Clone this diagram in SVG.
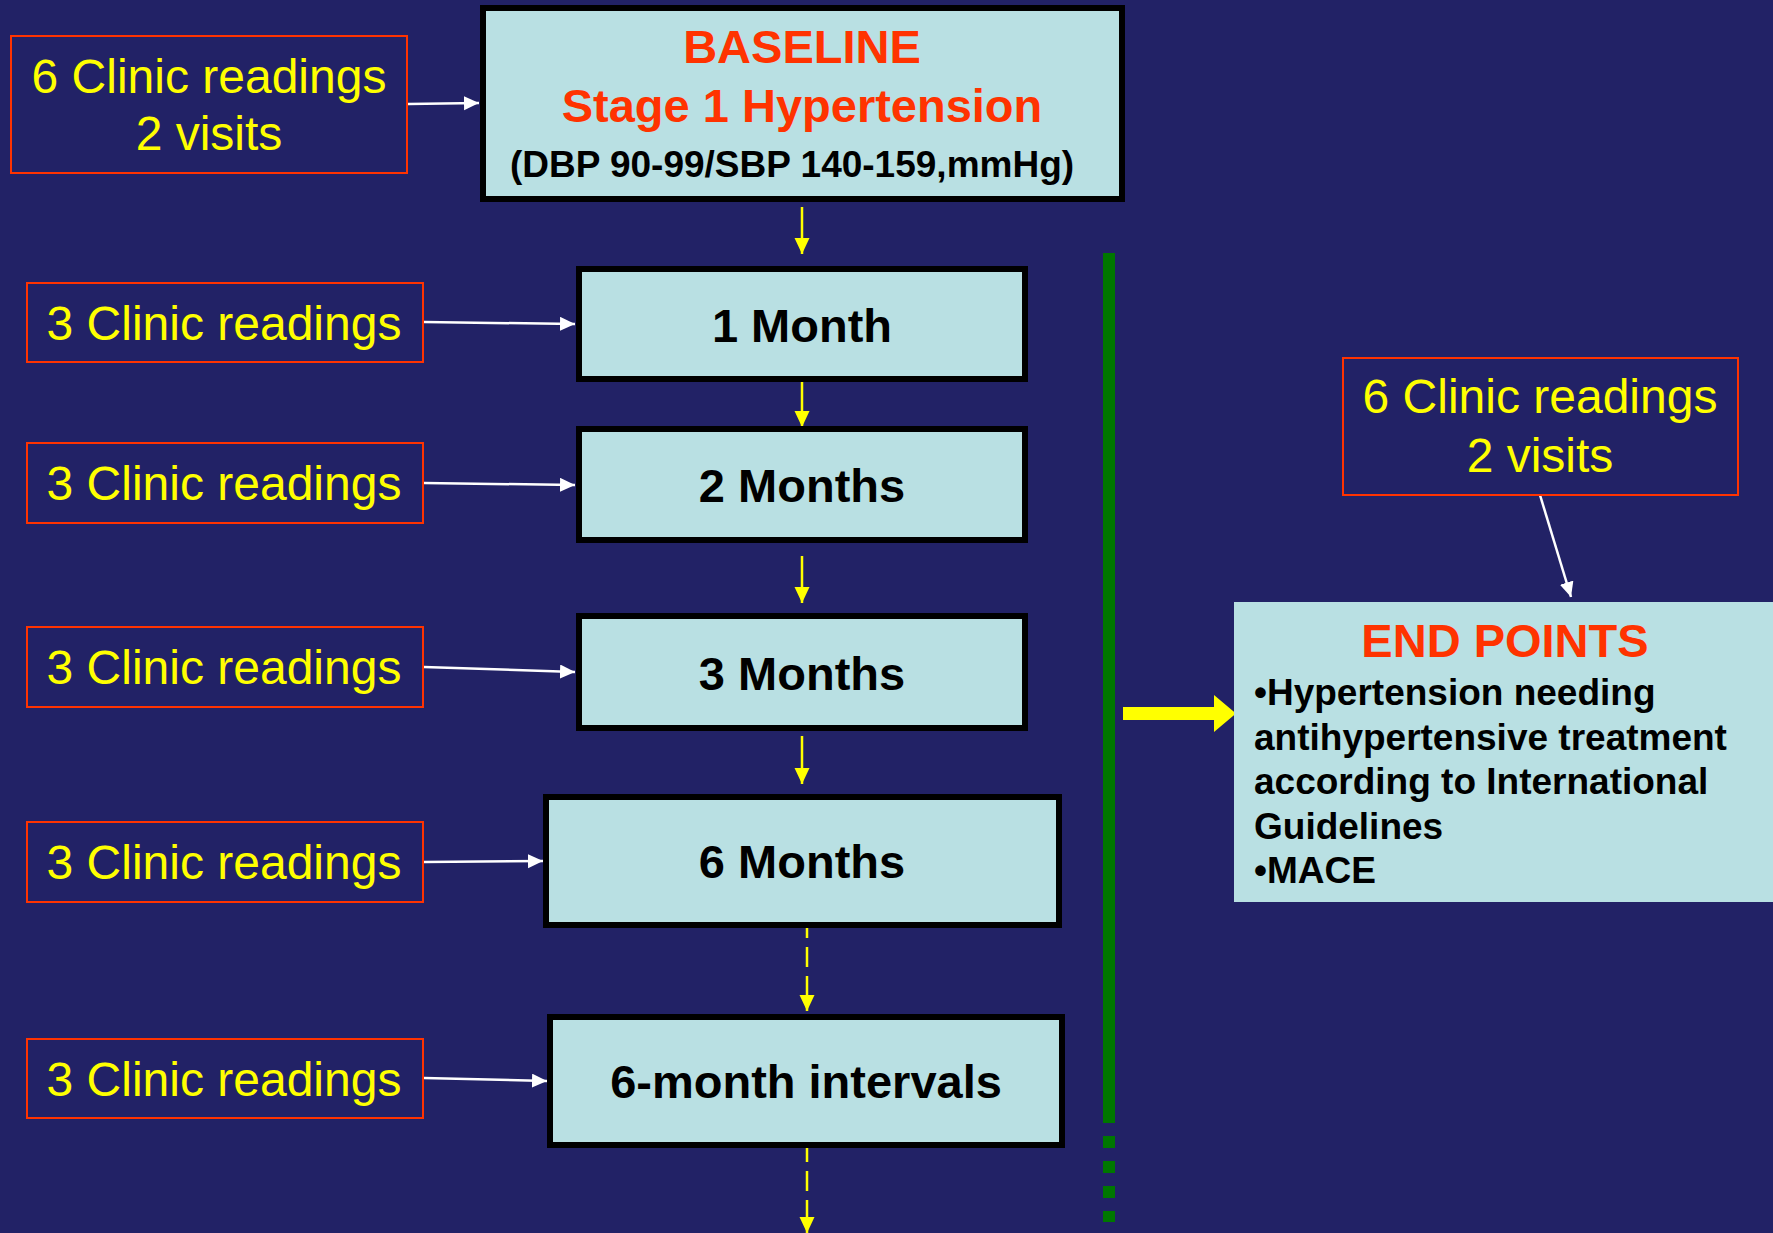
<svg xmlns="http://www.w3.org/2000/svg" width="1773" height="1233" viewBox="0 0 1773 1233">
<style>
  .bg { fill: #222266; }
  .red { fill: none; stroke: #FF3300; stroke-width: 2; }
  .stage { fill: #B9E0E3; stroke: #000000; stroke-width: 6; }
  .ylw { fill: #FFFF00; font-family: "Liberation Sans", Arial, sans-serif; font-size: 48px; text-anchor: middle; }
  .blk { fill: #000000; font-family: "Liberation Sans", Arial, sans-serif; font-weight: bold; font-size: 47px; text-anchor: middle; }
  .hdr { fill: #FF3300; font-family: "Liberation Sans", Arial, sans-serif; font-weight: bold; font-size: 47px; text-anchor: middle; }
  .body { fill: #000000; font-family: "Liberation Sans", Arial, sans-serif; font-weight: bold; font-size: 37px; }
  .wline { stroke: #FFFFFF; stroke-width: 2.5; fill: none; marker-end: url(#wArrow); }
  .yline { stroke: #FFFF00; stroke-width: 2.5; fill: none; marker-end: url(#yArrow); }
  .ydash { stroke: #FFFF00; stroke-width: 2.5; fill: none; stroke-dasharray: 20 9; marker-end: url(#yArrow); }
</style>
<defs>
  <marker id="wArrow" markerUnits="userSpaceOnUse" markerWidth="16" markerHeight="15" refX="15" refY="7" orient="auto">
    <path d="M0,0 L15,7 L0,14 z" fill="#FFFFFF"/>
  </marker>
  <marker id="yArrow" markerUnits="userSpaceOnUse" markerWidth="17" markerHeight="16" refX="16" refY="7.5" orient="auto">
    <path d="M0,0 L16,7.5 L0,15 z" fill="#FFFF00"/>
  </marker>
</defs>
<rect class="bg" x="0" y="0" width="1773" height="1233"/>

<g id="timeline">
  <line x1="1109" y1="253" x2="1109" y2="1123" stroke="#007700" stroke-width="12"/>
  <line x1="1109" y1="1136" x2="1109" y2="1222" stroke="#007700" stroke-width="12" stroke-dasharray="12 13"/>
</g>

<g id="connectors">
  <line class="wline" x1="408" y1="104" x2="479" y2="103"/>
  <line class="wline" x1="424" y1="322" x2="575" y2="324"/>
  <line class="wline" x1="424" y1="483" x2="575" y2="485"/>
  <line class="wline" x1="424" y1="667" x2="575" y2="672"/>
  <line class="wline" x1="424" y1="862" x2="543" y2="861"/>
  <line class="wline" x1="424" y1="1078" x2="547" y2="1081"/>
  <line class="wline" x1="1540" y1="495" x2="1571" y2="597"/>
  <line class="yline" x1="802" y1="207" x2="802" y2="254"/>
  <line class="yline" x1="802" y1="382" x2="802" y2="427"/>
  <line class="yline" x1="802" y1="556" x2="802" y2="603"/>
  <line class="yline" x1="802" y1="736" x2="802" y2="784"/>
  <line class="ydash" x1="807" y1="918" x2="807" y2="1011"/>
  <line class="ydash" x1="807" y1="1142" x2="807" y2="1233"/>
  <g id="endpoint-arrow">
    <line x1="1123" y1="713.5" x2="1216" y2="713.5" stroke="#FFFF00" stroke-width="13"/>
    <polygon points="1214,695 1236,713.5 1214,732" fill="#FFFF00"/>
  </g>
</g>

<g id="readings-baseline">
  <rect class="red" x="11" y="36" width="396" height="137"/>
  <text class="ylw" x="209" y="93">6 Clinic readings</text>
  <text class="ylw" x="209" y="150">2 visits</text>
</g>
<g id="baseline">
  <rect class="stage" x="483" y="8" width="639" height="191"/>
  <text class="hdr" x="802" y="63">BASELINE</text>
  <text class="hdr" x="802" y="122">Stage 1 Hypertension</text>
  <text class="blk" x="792" y="177" style="font-size:37px">(DBP 90-99/SBP 140-159,mmHg)</text>
</g>

<g id="readings-1m">
  <rect class="red" x="27" y="283" width="396" height="79"/>
  <text class="ylw" x="224" y="340">3 Clinic readings</text>
</g>
<g id="month1">
  <rect class="stage" x="579" y="269" width="446" height="110"/>
  <text class="blk" x="802" y="342">1 Month</text>
</g>

<g id="readings-2m">
  <rect class="red" x="27" y="443" width="396" height="80"/>
  <text class="ylw" x="224" y="500">3 Clinic readings</text>
</g>
<g id="month2">
  <rect class="stage" x="579" y="429" width="446" height="111"/>
  <text class="blk" x="802" y="502">2 Months</text>
</g>

<g id="readings-3m">
  <rect class="red" x="27" y="627" width="396" height="80"/>
  <text class="ylw" x="224" y="684">3 Clinic readings</text>
</g>
<g id="month3">
  <rect class="stage" x="579" y="616" width="446" height="112"/>
  <text class="blk" x="802" y="690">3 Months</text>
</g>

<g id="readings-6m">
  <rect class="red" x="27" y="822" width="396" height="80"/>
  <text class="ylw" x="224" y="879">3 Clinic readings</text>
</g>
<g id="month6">
  <rect class="stage" x="546" y="797" width="513" height="128"/>
  <text class="blk" x="802" y="878">6 Months</text>
</g>

<g id="readings-interval">
  <rect class="red" x="27" y="1039" width="396" height="79"/>
  <text class="ylw" x="224" y="1096">3 Clinic readings</text>
</g>
<g id="interval">
  <rect class="stage" x="550" y="1017" width="512" height="128"/>
  <text class="blk" x="806" y="1098">6-month intervals</text>
</g>

<g id="readings-endpoints">
  <rect class="red" x="1343" y="358" width="395" height="137"/>
  <text class="ylw" x="1540" y="413">6 Clinic readings</text>
  <text class="ylw" x="1540" y="472">2 visits</text>
</g>
<g id="endpoints">
  <rect x="1234" y="602" width="539" height="300" fill="#B9E0E3"/>
  <text class="hdr" x="1505" y="657">END POINTS</text>
  <text class="body" x="1254" y="705">•Hypertension needing</text>
  <text class="body" x="1254" y="750">antihypertensive treatment</text>
  <text class="body" x="1254" y="794">according to International</text>
  <text class="body" x="1254" y="839">Guidelines</text>
  <text class="body" x="1254" y="883">•MACE</text>
</g>
</svg>
